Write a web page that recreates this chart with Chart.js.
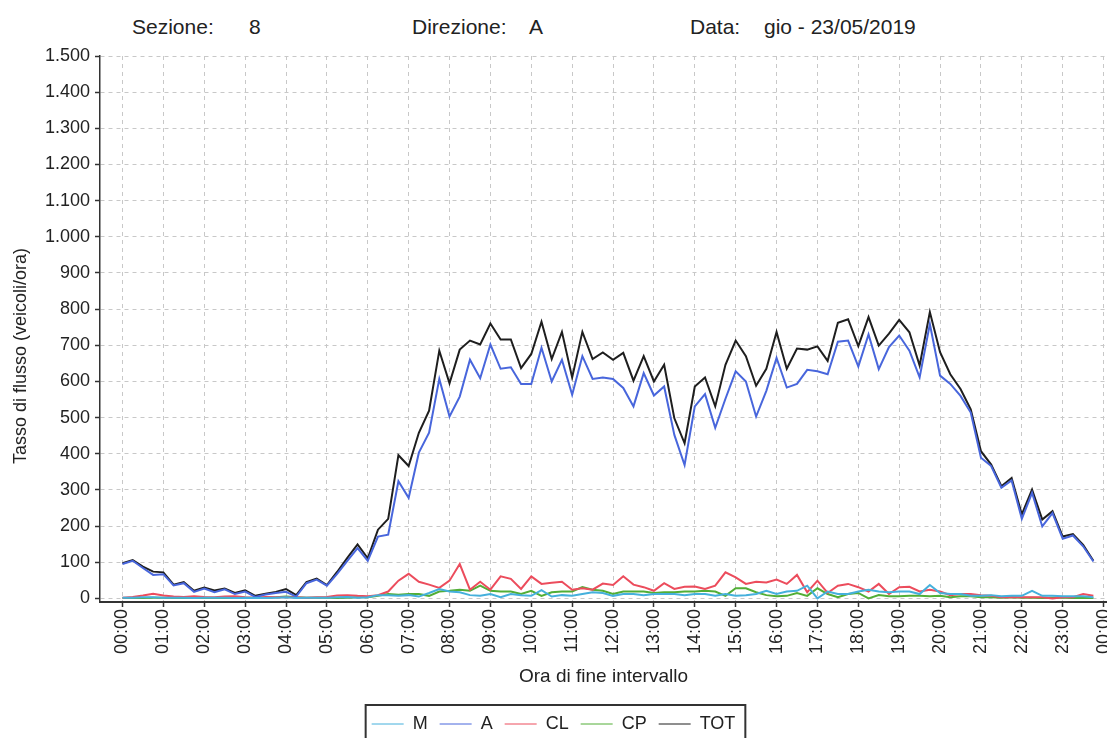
<!DOCTYPE html>
<html lang="it">
<head>
<meta charset="utf-8">
<title>Tasso di flusso - Sezione 8</title>
<script src="https://cdn.jsdelivr.net/npm/chart.js@4.4.1/dist/chart.umd.min.js"></script>
<style>
  html, body { margin: 0; padding: 0; background: #fff; overflow: hidden; }
  #wrap { position: relative; width: 1107px; height: 738px; overflow: hidden; }
  #grafico { position: absolute; left: 0; top: 0; }
  .hdr { position: absolute; top: 15px; font: 21px "Liberation Sans", Arial, sans-serif; color: #222; white-space: nowrap; }
</style>
</head>
<body>
<div id="wrap">
  <span class="hdr" style="left:132px">Sezione:</span>
  <span class="hdr" style="left:249px">8</span>
  <span class="hdr" style="left:412px">Direzione:</span>
  <span class="hdr" style="left:529px">A</span>
  <span class="hdr" style="left:690px">Data:</span>
  <span class="hdr" style="left:764px">gio - 23/05/2019</span>
  <canvas id="grafico" width="1107" height="760"></canvas>
</div>
<script>
// etichette asse orario (una ogni ora)
const ORE = ['00:00', '01:00', '02:00', '03:00', '04:00', '05:00', '06:00', '07:00',
  '08:00', '09:00', '10:00', '11:00', '12:00', '13:00', '14:00', '15:00', '16:00',
  '17:00', '18:00', '19:00', '20:00', '21:00', '22:00', '23:00', '00:00'];
const TICK_Y = [0, 100, 200, 300, 400, 500, 600, 700, 800, 900, 1000, 1100, 1200, 1300, 1400, 1500];
const PASSO_MIN = 15; // intervalli di 15 minuti

// veicoli/ora per intervallo, per classe
const SERIE_M = [2, 2, 3, 3, 2, 2, 2, 1, 2, 2, 2, 1, 2, 1, 1, 2, 3, 1, 2, 2, 2, 3, 4,
  2, 3, 9, 9, 7, 9, 5, 15, 26, 19, 17, 9, 7, 12, 3, 12, 9, 7, 23, 5, 9, 7, 12, 17, 15,
  7, 12, 12, 9, 12, 12, 12, 9, 12, 12, 7, 12, 7, 9, 12, 21, 12, 19, 21, 35, 0, 19, 12, 12,
  19, 24, 19, 17, 19, 19, 12, 37, 15, 12, 12, 7, 7, 9, 6, 7, 7, 21, 7, 7, 6, 6, 6, 3];
const SERIE_A = [95, 104, 84, 65, 67, 36, 42, 18, 27, 17, 25, 12, 19, 4, 11, 15, 18, 5, 42, 52, 35, 68, 104,
  139, 104, 171, 176, 324, 278, 403, 458, 607, 503, 558, 660, 609, 702, 635, 639, 593, 593, 693, 600, 660, 563, 670, 607, 611,
  607, 582, 531, 623, 561, 586, 452, 369, 531, 565, 472, 552, 628, 600, 503, 574, 665, 583, 593, 632, 628, 620, 710, 713,
  641, 730, 634, 695, 727, 685, 611, 759, 616, 593, 560, 514, 389, 366, 306, 326, 220, 292, 199, 236, 165, 174, 144, 102];
const SERIE_CL = [2, 4, 8, 13, 8, 5, 4, 6, 4, 3, 5, 6, 3, 2, 4, 3, 3, 3, 2, 3, 4, 8, 9,
  7, 6, 9, 19, 49, 68, 46, 38, 29, 49, 95, 24, 46, 24, 61, 54, 26, 61, 40, 43, 46, 24, 28, 24, 41,
  37, 61, 38, 31, 21, 42, 26, 32, 33, 26, 35, 72, 58, 40, 46, 44, 52, 40, 65, 17, 49, 15, 35, 40,
  31, 19, 40, 12, 31, 32, 19, 24, 19, 9, 12, 12, 9, 7, 3, 3, 3, 3, 3, 0, 3, 3, 12, 7];
const SERIE_CP = [1, 1, 1, 2, 2, 1, 1, 1, 2, 1, 1, 1, 2, 1, 2, 3, 5, 3, 2, 2, 2, 1, 2,
  3, 3, 7, 12, 10, 12, 12, 7, 19, 21, 24, 21, 35, 21, 19, 19, 12, 21, 7, 17, 19, 19, 31, 24, 21,
  12, 19, 19, 19, 15, 17, 17, 19, 19, 21, 19, 7, 28, 28, 17, 9, 6, 7, 15, 7, 28, 12, 3, 12,
  15, 0, 9, 6, 6, 7, 7, 6, 7, 3, 6, 6, 3, 3, 2, 3, 2, 2, 1, 2, 2, 1, 2, 1];
const SERIE_TOT = [97, 106, 88, 74, 72, 38, 45, 21, 30, 22, 27, 15, 22, 7, 13, 18, 26, 9, 45, 55, 37, 73, 112,
  149, 111, 190, 220, 396, 366, 458, 519, 685, 595, 688, 713, 702, 760, 716, 716, 637, 676, 765, 662, 737, 611, 737, 662, 680,
  660, 679, 602, 670, 600, 646, 498, 429, 586, 611, 531, 646, 713, 670, 588, 635, 737, 635, 691, 688, 697, 657, 762, 772,
  698, 778, 699, 732, 770, 736, 644, 792, 681, 620, 579, 523, 407, 370, 310, 333, 232, 301, 218, 241, 171, 178, 148, 104];

const FONT = '"Liberation Sans", Arial, sans-serif';
const TITOLO_Y = 'Tasso di flusso (veicoli/ora)';
Chart.defaults.font.family = FONT;
Chart.defaults.color = '#222';

const punti = valori => valori.map((v, i) => ({ x: i * PASSO_MIN, y: v }));

// separatore delle migliaia all'italiana
const migliaia = v => v >= 1000 ? Math.floor(v / 1000) + '.' + String(v % 1000).padStart(3, '0') : String(v);

// riquadro attorno alla legenda
const cornice = {
  id: 'corniceLegenda',
  afterDraw(chart) {
    const boxes = chart.legend.legendHitBoxes;
    if (!boxes || !boxes.length) return;
    const primo = boxes[0];
    const ultimo = boxes[boxes.length - 1];
    const cy = primo.top + primo.height / 2;
    const ctx = chart.ctx;
    ctx.save();
    ctx.strokeStyle = '#333';
    ctx.lineWidth = 2;
    ctx.strokeRect(primo.left - 6, cy - 19, ultimo.left + ultimo.width - primo.left + 16, 70);
    ctx.restore();
  }
};

// titolo dell'asse y, un po' sotto il centro dell'area
const titoloAsseY = {
  id: 'titoloAsseY',
  afterDraw(chart) {
    const ctx = chart.ctx;
    ctx.save();
    ctx.translate(21, 356);
    ctx.rotate(-Math.PI / 2);
    ctx.font = '18px ' + FONT;
    ctx.fillStyle = '#222';
    ctx.textAlign = 'center';
    ctx.textBaseline = 'middle';
    ctx.fillText(TITOLO_Y, 0, 0);
    ctx.restore();
  }
};

const griglia = { color: '#c8c8c8', lineWidth: 1, tickLength: 5, tickColor: '#333', tickWidth: 1.5 };

new Chart(document.getElementById('grafico'), {
  type: 'line',
  data: {
    datasets: [
      { label: 'M', data: punti(SERIE_M), borderColor: '#45b0dc' },
      { label: 'A', data: punti(SERIE_A), borderColor: '#4866dc' },
      { label: 'CL', data: punti(SERIE_CL), borderColor: '#ec4c5c' },
      { label: 'CP', data: punti(SERIE_CP), borderColor: '#52ae36' },
      { label: 'TOT', data: punti(SERIE_TOT), borderColor: '#1e1e1e' }
    ]
  },
  options: {
    responsive: false,
    animation: false,
    devicePixelRatio: 1,
    layout: { padding: { left: 0, right: 0, top: 56, bottom: 17 } },
    elements: {
      line: { borderWidth: 2, tension: 0, fill: false },
      point: { radius: 0, hoverRadius: 0 }
    },
    plugins: {
      legend: {
        position: 'bottom',
        labels: {
          usePointStyle: true,
          pointStyle: 'line',
          pointStyleWidth: 32,
          padding: 12,
          color: '#222',
          font: { size: 18 }
        }
      },
      tooltip: { enabled: false }
    },
    scales: {
      x: {
        type: 'linear',
        min: -33,
        max: 1445,
        afterBuildTicks: s => { s.ticks = ORE.map((_, h) => ({ value: h * 60 })); },
        afterFit: s => { s.height = 101; s.paddingLeft = 0; s.paddingRight = 0; },
        ticks: {
          autoSkip: false,
          minRotation: 90,
          maxRotation: 90,
          padding: 2,
          color: '#222',
          font: { size: 18 },
          callback: (v, i) => ORE[i]
        },
        grid: griglia,
        border: { display: true, color: '#333', width: 2, dash: [4, 4] },
        title: {
          display: true,
          text: 'Ora di fine intervallo',
          color: '#222',
          font: { size: 19 },
          padding: { top: 0, bottom: 15 }
        }
      },
      y: {
        type: 'linear',
        min: -10,
        max: 1500,
        afterBuildTicks: s => { s.ticks = TICK_Y.map(v => ({ value: v })); },
        afterFit: s => { s.width = 100; s.paddingTop = 0; s.paddingBottom = 0; },
        ticks: {
          padding: 5,
          color: '#222',
          font: { size: 18 },
          callback: v => migliaia(v)
        },
        grid: griglia,
        border: { display: true, color: '#333', width: 1.5, dash: [4, 4] }
      }
    }
  },
  plugins: [cornice, titoloAsseY]
});
</script>
</body>
</html>
